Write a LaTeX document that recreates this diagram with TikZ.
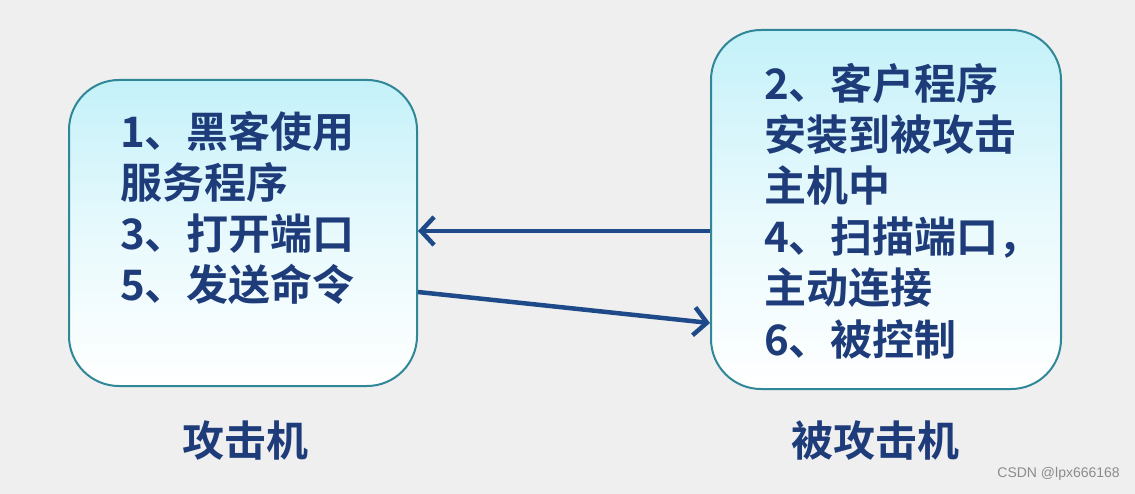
\documentclass[tikz,border=0pt]{standalone}
\usepackage{fontspec}
\newfontfamily\cjk{Noto Sans CJK SC}[BoldFont={Noto Sans CJK SC Bold}]
\usetikzlibrary{arrows.meta,calc}
\definecolor{bg}{HTML}{EFEFEF}
\definecolor{boxline}{HTML}{2F8797}
\definecolor{boxtop}{HTML}{C4F1F9}
\definecolor{txt}{HTML}{1F3C7A}
\definecolor{arr}{HTML}{1E4A8A}
\tikzset{
  box/.style={draw=boxline, line width=2pt, rounded corners=50pt, top color=boxtop, bottom color=white, middle color=boxtop!40!white, inner sep=0pt},
  line/.style={anchor=base west, inner sep=0pt, text=txt, font=\cjk\bfseries\fontsize{42}{50}\selectfont},
  label/.style={anchor=base, inner sep=0pt, text=txt, font=\cjk\bfseries\fontsize{42}{50}\selectfont},
  conn/.style={draw=arr, line width=4.5pt, -{Straight Barb[length=13pt,width=28pt,line width=4.5pt]}}
}
\begin{document}
\begin{tikzpicture}[x=1pt,y=-1pt]
\fill[bg] (0,0) rectangle (1135,494);
\useasboundingbox (0,0) rectangle (1135,494);
\node[box, minimum width=348pt, minimum height=306pt] (lbox) at (243,233) {};
\node[box, minimum width=350pt, minimum height=359pt] (rbox) at (886,209.5) {};
\node[line] (l1) at (120,148) {1、黑客使用};
\node[line] (l2) at (120,199) {服务程序};
\node[line] (l3) at (120,250) {3、打开端口};
\node[line] (l4) at (120,301) {5、发送命令};
\node[line] (r1) at (764,100) {2、客户程序};
\node[line] (r2) at (764,151) {安装到被攻击};
\node[line] (r3) at (764,202) {主机中};
\node[line] (r4) at (764,253) {4、扫描端口，};
\node[line] (r5) at (764,304) {主动连接};
\node[line] (r6) at (764,355) {6、被控制};
\node[label] (lab1) at (245,456) {攻击机};
\node[label] (lab2) at (875,456) {被攻击机};
\node[anchor=east, inner sep=0pt, text=black!45, font=\fontspec{Liberation Sans}\fontsize{14}{16}\selectfont] (wm) at (1120,474) {CSDN @lpx666168};
\draw[conn] ($(rbox.west)+(0,21.5)$) -- ($(lbox.east)+(0,-2)$);
\draw[conn] ($(lbox.east)+(0,59)$) -- ($(rbox.west)+(0,113.5)$);
\end{tikzpicture}
\end{document}
